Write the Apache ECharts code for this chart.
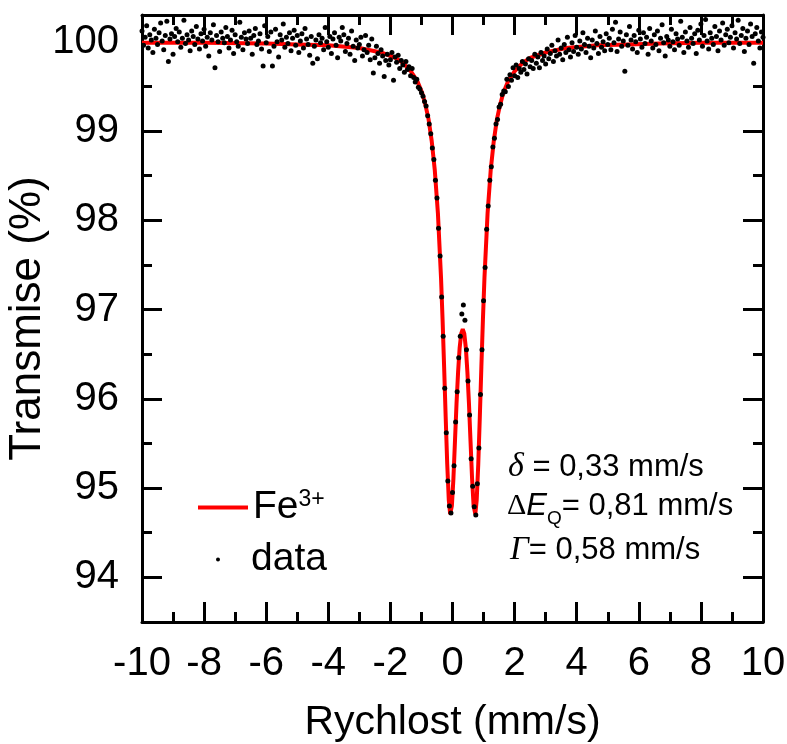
<!DOCTYPE html>
<html><head><meta charset="utf-8">
<script src="https://cdn.jsdelivr.net/npm/echarts@6/dist/echarts.min.js"></script>
<style>html,body{margin:0;padding:0;background:#fff}#c{width:787px;height:744px}</style>
</head><body><div id="c"></div>
<script>
// Measured spectrum (velocity in mm/s, transmission in %)
const velocity = [
-10,-9.95,-9.9,-9.85,-9.8,-9.75,-9.7,-9.65,-9.6,-9.55,
-9.5,-9.45,-9.4,-9.35,-9.3,-9.25,-9.2,-9.15,-9.1,-9.05,
-9,-8.95,-8.9,-8.85,-8.8,-8.75,-8.7,-8.65,-8.6,-8.55,
-8.5,-8.45,-8.4,-8.35,-8.3,-8.25,-8.2,-8.15,-8.1,-8.05,
-8,-7.95,-7.9,-7.85,-7.8,-7.75,-7.7,-7.65,-7.6,-7.55,
-7.5,-7.45,-7.4,-7.35,-7.3,-7.25,-7.2,-7.15,-7.1,-7.05,
-7,-6.95,-6.9,-6.85,-6.8,-6.75,-6.7,-6.65,-6.6,-6.55,
-6.5,-6.45,-6.4,-6.35,-6.3,-6.25,-6.2,-6.15,-6.1,-6.05,
-6,-5.95,-5.9,-5.85,-5.8,-5.75,-5.7,-5.65,-5.6,-5.55,
-5.5,-5.45,-5.4,-5.35,-5.3,-5.25,-5.2,-5.15,-5.1,-5.05,
-5,-4.95,-4.9,-4.85,-4.8,-4.75,-4.7,-4.65,-4.6,-4.55,
-4.5,-4.45,-4.4,-4.35,-4.3,-4.25,-4.2,-4.15,-4.1,-4.05,
-4,-3.95,-3.9,-3.85,-3.8,-3.75,-3.7,-3.65,-3.6,-3.55,
-3.5,-3.45,-3.4,-3.35,-3.3,-3.25,-3.2,-3.15,-3.1,-3.05,
-3,-2.95,-2.9,-2.85,-2.8,-2.75,-2.7,-2.65,-2.6,-2.55,
-2.5,-2.45,-2.4,-2.35,-2.3,-2.25,-2.2,-2.15,-2.1,-2.05,
-2,-1.95,-1.9,-1.85,-1.8,-1.75,-1.7,-1.65,-1.6,-1.55,
-1.5,-1.45,-1.4,-1.35,-1.3,-1.25,-1.2,-1.15,-1.1,-1.05,
-1,-0.95,-0.9,-0.85,-0.8,-0.75,-0.7,-0.65,-0.6,-0.55,
-0.5,-0.45,-0.4,-0.35,-0.3,-0.25,-0.2,-0.15,-0.1,-0.05,
0,0.05,0.1,0.15,0.2,0.25,0.3,0.35,0.4,0.45,
0.5,0.55,0.6,0.65,0.7,0.75,0.8,0.85,0.9,0.95,
1,1.05,1.1,1.15,1.2,1.25,1.3,1.35,1.4,1.45,
1.5,1.55,1.6,1.65,1.7,1.75,1.8,1.85,1.9,1.95,
2,2.05,2.1,2.15,2.2,2.25,2.3,2.35,2.4,2.45,
2.5,2.55,2.6,2.65,2.7,2.75,2.8,2.85,2.9,2.95,
3,3.05,3.1,3.15,3.2,3.25,3.3,3.35,3.4,3.45,
3.5,3.55,3.6,3.65,3.7,3.75,3.8,3.85,3.9,3.95,
4,4.05,4.1,4.15,4.2,4.25,4.3,4.35,4.4,4.45,
4.5,4.55,4.6,4.65,4.7,4.75,4.8,4.85,4.9,4.95,
5,5.05,5.1,5.15,5.2,5.25,5.3,5.35,5.4,5.45,
5.5,5.55,5.6,5.65,5.7,5.75,5.8,5.85,5.9,5.95,
6,6.05,6.1,6.15,6.2,6.25,6.3,6.35,6.4,6.45,
6.5,6.55,6.6,6.65,6.7,6.75,6.8,6.85,6.9,6.95,
7,7.05,7.1,7.15,7.2,7.25,7.3,7.35,7.4,7.45,
7.5,7.55,7.6,7.65,7.7,7.75,7.8,7.85,7.9,7.95,
8,8.05,8.1,8.15,8.2,8.25,8.3,8.35,8.4,8.45,
8.5,8.55,8.6,8.65,8.7,8.75,8.8,8.85,8.9,8.95,
9,9.05,9.1,9.15,9.2,9.25,9.3,9.35,9.4,9.45,
9.5,9.55,9.6,9.65,9.7,9.75,9.8,9.85,9.9,9.95,
10
];
const transmission = [
100.12,99.96,100.05,100.18,99.93,100.08,100.02,99.88,100.14,100.04,
99.97,100.10,100.21,100.01,99.91,100.07,100.23,99.78,100.03,100.09,
99.86,100.06,100.15,100.00,100.11,99.94,100.04,100.24,99.98,100.08,
100.02,99.90,100.12,100.06,99.97,100.17,100.03,99.92,100.09,100.01,
100.14,99.95,100.05,99.84,100.10,100.02,100.19,99.71,100.07,100.00,
99.89,100.11,100.04,99.99,100.16,100.06,99.93,100.02,100.13,99.87,
100.08,100.00,99.95,100.22,100.05,99.91,100.10,100.03,99.98,100.12,
100.04,99.86,100.07,100.15,99.97,100.01,100.09,99.92,99.73,100.18,
99.99,100.06,99.89,100.11,99.73,99.95,100.14,100.00,99.83,100.08,
100.02,100.20,99.94,100.05,99.98,100.10,99.90,100.04,100.13,99.96,
100.07,99.88,100.01,100.09,99.93,100.15,100.03,99.97,99.85,100.06,
99.76,99.95,100.02,99.81,100.08,99.99,100.04,99.91,100.16,100.00,
99.94,100.06,99.87,100.03,100.10,99.96,99.82,100.05,100.01,100.16,
100.08,99.89,99.98,100.04,99.86,100.12,99.95,99.79,100.02,99.93,
99.97,100.05,99.84,99.91,100.07,99.88,99.96,99.80,100.03,99.65,
99.82,99.95,99.87,99.76,99.91,99.84,99.61,99.79,99.86,99.74,
99.80,99.88,99.57,99.83,99.77,99.85,99.70,99.79,99.74,99.66,
99.78,99.69,99.72,99.62,99.70,99.60,99.55,99.58,99.49,99.47,
99.43,99.39,99.33,99.28,99.17,99.08,98.97,98.81,98.68,98.45,
98.25,97.91,97.60,97.14,96.70,96.12,95.62,95.08,94.80,94.72,
94.95,95.25,95.74,96.08,96.46,96.70,96.95,97.05,96.88,96.55,
96.20,95.82,95.33,95.02,94.79,94.70,95.05,95.45,96.05,96.55,
97.10,97.47,97.90,98.16,98.45,98.60,98.82,98.92,99.08,99.13,
99.27,99.30,99.41,99.45,99.44,99.58,99.50,99.63,99.57,99.71,
99.62,99.74,99.60,99.70,99.66,99.78,99.69,99.75,99.64,99.81,
99.72,99.79,99.70,99.86,99.76,99.83,99.71,99.88,99.79,99.84,
99.75,99.92,99.81,99.87,99.96,99.78,99.90,99.84,100.02,99.86,
99.93,99.80,99.97,99.88,100.05,99.91,99.83,99.99,99.89,100.07,
99.94,99.86,100.01,99.92,100.10,99.97,99.88,100.04,99.95,99.82,
100.02,99.93,100.12,99.98,99.87,100.06,99.94,100.00,99.90,100.09,
99.97,100.04,99.91,100.14,99.99,100.22,99.89,100.03,100.11,99.95,
100.01,99.67,100.08,99.96,100.17,100.02,99.92,100.07,100.00,99.88,
100.13,100.03,99.94,100.10,99.98,100.05,99.86,100.15,100.01,99.93,
100.08,99.97,100.12,99.90,100.04,100.19,99.99,99.84,100.06,100.02,
99.95,100.14,100.00,99.91,100.09,100.03,99.96,100.23,100.05,99.88,
100.11,100.01,99.94,100.16,100.04,99.98,100.09,99.87,100.13,100.02,
100.20,99.95,100.07,100.25,100.01,99.92,100.10,100.04,99.97,100.17,
100.06,99.90,100.12,100.02,100.21,99.96,100.08,100.14,99.99,100.05,
100.18,99.93,100.10,100.03,100.24,99.98,100.07,100.15,99.89,100.04,
100.12,99.97,100.20,100.06,99.76,100.09,100.16,100.01,99.93,100.11,
100.05
];
// Fitted Fe3+ doublet
const fitVelocity = [-10,-8,-6,-5,-4,-3,-2.3,-1.84,-1.59,-1.34,-1.12,-0.97,-0.87,-0.77,-0.67,-0.57,-0.47,-0.37,
  -0.32,-0.27,-0.22,-0.17,-0.12,-0.075,-0.02,0.03,0.08,0.13,0.18,0.23,0.28,0.33,0.38,0.43,0.48,0.53,0.58,0.63,0.68,0.735,
  0.78,0.83,0.88,0.93,0.98,1.03,1.13,1.23,1.33,1.43,1.53,1.63,1.78,2.0,2.25,2.5,3.0,3.66,4.66,5.66,6.66,8,10];
const fitTransmission = [99.99,99.99,99.98,99.97,99.96,99.93,99.88,99.82,99.76,99.67,99.55,99.42,99.29,99.13,98.89,98.56,98.08,97.36,
  96.89,96.36,95.80,95.27,94.87,94.71,94.80,95.11,95.53,95.95,96.30,96.57,96.73,96.78,96.73,96.57,96.30,95.95,95.53,95.11,94.80,94.71,
  94.87,95.27,95.80,96.36,96.89,97.36,98.08,98.56,98.89,99.13,99.29,99.42,99.55,99.67,99.76,99.82,99.88,99.93,99.96,99.97,99.98,99.99,99.99];

const yMajorTicks = [94,95,96,97,98,99,100];
const yMinorTicks = [93.5,94.5,95.5,96.5,97.5,98.5,99.5];
const seriesNames = ['Fe3+', 'data'];

const FONT = '"Liberation Sans", Arial, sans-serif';
const dataPts = velocity.map((v, i) => [v, transmission[i]]);
const fitPts = fitVelocity.map((v, i) => [v, fitTransmission[i]]);

const black = '#000';
const axLine = {show: true, onZero: false, lineStyle: {color: black, width: 3}};
const noLine = {show: false, onZero: false};
function xAx(pos, labels) {
  return {
    type: 'value', position: pos, min: -10, max: 10, interval: 2,
    axisLine: axLine,
    axisTick: {inside: true, length: 20, lineStyle: {color: black, width: 3}},
    minorTick: {show: true, splitNumber: 2, length: 10, lineStyle: {color: black, width: 3}},
    splitLine: {show: false}, minorSplitLine: {show: false},
    axisLabel: labels ? {show: true, fontSize: 40, color: black, fontFamily: FONT, margin: 22} : {show: false}
  };
}
function yAx(pos, ticks, len, labels) {
  return {
    type: 'value', position: pos, min: 93.5, max: 100.3,
    axisLine: len === 20 ? axLine : noLine,
    axisTick: {inside: true, length: len, customValues: ticks, lineStyle: {color: black, width: 3}},
    splitLine: {show: false},
    axisLabel: labels ? {show: true, customValues: ticks, fontSize: 40, color: black, fontFamily: FONT, margin: 23} : {show: false}
  };
}
const xMain = xAx('bottom', true);
xMain.name = 'Rychlost (mm/s)';
xMain.nameLocation = 'middle';
xMain.nameGap = 80;
xMain.nameMoveOverlap = false;
xMain.nameTextStyle = {fontSize: 41, color: black, fontFamily: FONT};
const yMain = yAx('left', yMajorTicks, 20, true);
yMain.name = 'Transmise (%)';
yMain.nameLocation = 'middle';
yMain.nameGap = 92;
yMain.nameMoveOverlap = false;
yMain.nameTextStyle = {fontSize: 44, color: black, fontFamily: FONT};

const chart = echarts.init(document.getElementById('c'), null, {renderer: 'canvas'});
chart.setOption({
  animation: false,
  backgroundColor: '#fff',
  grid: {left: 142, right: 24, top: 15, bottom: 122, containLabel: false, outerBoundsMode: 'none'},
  xAxis: [xMain, xAx('top', false)],
  yAxis: [yMain, yAx('left', yMinorTicks, 10, false), yAx('right', yMajorTicks, 20, false), yAx('right', yMinorTicks, 10, false)],
  legend: [
    {data: [{name: seriesNames[0], icon: 'rect'}], left: 193, top: 483, itemWidth: 50, itemHeight: 4,
     symbolKeepAspect: false, selectedMode: false,
     formatter: () => 'Fe{sup|3+}',
     textStyle: {fontSize: 39, color: black, fontFamily: FONT, rich: {sup: {fontSize: 23, fontFamily: FONT, verticalAlign: 'top', color: black}}}},
    {data: [{name: seriesNames[1], icon: 'circle'}], left: 211, top: 535, itemWidth: 56, itemHeight: 4,
     selectedMode: false,
     textStyle: {fontSize: 39, color: black, fontFamily: FONT}}
  ],
  graphic: [
    {type: 'text', left: 508, top: 450, style: {
      text: '{g|δ}{t| = 0,33 mm/s}', fill: black,
      rich: {g: {fontFamily: '"Liberation Serif", serif', fontStyle: 'italic', fontSize: 34, fill: black},
             t: {fontFamily: FONT, fontSize: 31, fill: black}}}},
    {type: 'text', left: 507, top: 491, style: {
      text: '{d|Δ}{e|E}{q|Q}{t|= 0,81 mm/s}', fill: black,
      rich: {d: {fontFamily: '"Liberation Serif", serif', fontSize: 30, fill: black},
             e: {fontFamily: FONT, fontStyle: 'italic', fontSize: 31, fill: black},
             q: {fontFamily: FONT, fontSize: 19, fill: black, verticalAlign: 'bottom', padding: [24, 0, 0, 0]},
             t: {fontFamily: FONT, fontSize: 31, fill: black}}}},
    {type: 'text', left: 510, top: 534, style: {
      text: '{g|Γ}{t|= 0,58 mm/s}', fill: black,
      rich: {g: {fontFamily: '"Liberation Serif", serif', fontStyle: 'italic', fontSize: 33, fill: black},
             t: {fontFamily: FONT, fontSize: 31, fill: black}}}}
  ],
  series: [
    {name: seriesNames[0], type: 'line', data: fitPts, showSymbol: false, symbol: 'none',
     lineStyle: {color: '#ff0000', width: 4}, itemStyle: {color: '#ff0000'}, z: 2},
    {name: seriesNames[1], type: 'scatter', data: dataPts, symbolSize: 5,
     itemStyle: {color: black, opacity: 1}, z: 3}
  ]
});
</script>
</body></html>
